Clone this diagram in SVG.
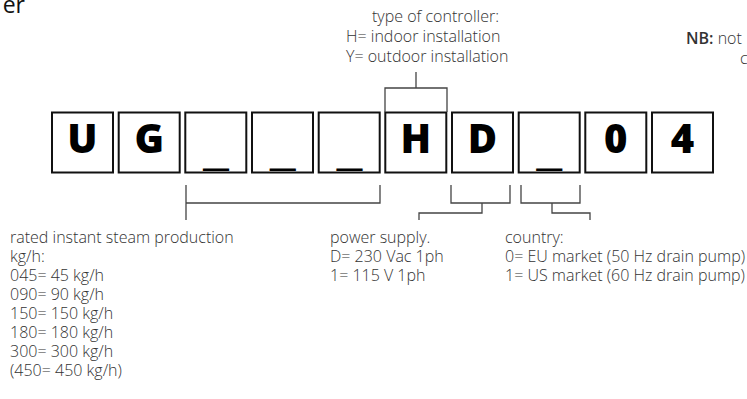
<svg xmlns="http://www.w3.org/2000/svg" width="747" height="399" viewBox="0 0 747 399">
<style>
.t{font-family:"Open Sans","Noto Sans",sans-serif;font-size:16px;font-weight:300;fill:#333}
.b{font-family:"Open Sans","Noto Sans",sans-serif;font-size:40px;font-weight:800;fill:#000;text-anchor:middle}
.u{font-family:"Open Sans","Noto Sans",sans-serif;font-size:36px;font-weight:700;fill:#000}
.box{fill:#fff;stroke:#111;stroke-width:2}
.ln{fill:none;stroke:#444;stroke-width:1.3}
</style>
<rect width="747" height="399" fill="#fff"/>
<text x="25" y="13" font-family="Open Sans, sans-serif" font-size="23" fill="#111" text-anchor="end">er</text>
<g id="note-controller">
<text class="t" x="372" y="22">type of controller:</text>
<text class="t" x="346" y="42">H= indoor installation</text>
<text class="t" x="346" y="62">Y= outdoor installation</text>
</g>
<g id="note-nb">
<text class="t" x="686" y="44"><tspan font-weight="600">NB:</tspan> not</text>
<text class="t" x="740" y="64">c</text>
</g>
<g id="box1"><rect class="box" x="52" y="112.5" width="61" height="60"/><text class="b" x="82.5" y="153">U</text></g>
<g id="box2"><rect class="box" x="118.7" y="112.5" width="61" height="60"/><text class="b" x="149.2" y="153">G</text></g>
<g id="box3"><rect class="box" x="185.3" y="112.5" width="61" height="60"/><text class="u" x="203" y="165" textLength="26" lengthAdjust="spacingAndGlyphs">_</text></g>
<g id="box4"><rect class="box" x="252" y="112.5" width="61" height="60"/><text class="u" x="269.7" y="165" textLength="26" lengthAdjust="spacingAndGlyphs">_</text></g>
<g id="box5"><rect class="box" x="318.7" y="112.5" width="61" height="60"/><text class="u" x="336.4" y="165" textLength="26" lengthAdjust="spacingAndGlyphs">_</text></g>
<g id="box6"><rect class="box" x="385.3" y="112.5" width="61" height="60"/><text class="b" x="415.8" y="153">H</text></g>
<g id="box7"><rect class="box" x="452" y="112.5" width="61" height="60"/><text class="b" x="482.5" y="153">D</text></g>
<g id="box8"><rect class="box" x="518.7" y="112.5" width="61" height="60"/><text class="u" x="536.2" y="165" textLength="26" lengthAdjust="spacingAndGlyphs">_</text></g>
<g id="box9"><rect class="box" x="585.3" y="112.5" width="61" height="60"/><text class="b" x="615.8" y="153">0</text></g>
<g id="box10"><rect class="box" x="652" y="112.5" width="61" height="60"/><text class="b" x="682.5" y="153">4</text></g>
<g id="connectors">
<path class="ln" d="M416 72V88M385 112V88H447V112"/>
<path class="ln" d="M186 185V220M186 203H380V185"/>
<path class="ln" d="M451 185V203H510V185M482 203V213H419V220"/>
<path class="ln" d="M521 185V203H580V185M552 203V213H590V220"/>
</g>
<g id="note-production">
<text class="t" x="10" y="243">rated instant steam production</text>
<text class="t" x="10" y="262">kg/h:</text>
<text class="t" x="10" y="281">045= 45 kg/h</text>
<text class="t" x="10" y="300">090= 90 kg/h</text>
<text class="t" x="10" y="319">150= 150 kg/h</text>
<text class="t" x="10" y="338">180= 180 kg/h</text>
<text class="t" x="10" y="357">300= 300 kg/h</text>
<text class="t" x="10" y="376">(450= 450 kg/h)</text>
</g>
<g id="note-power">
<text class="t" x="330" y="243">power supply.</text>
<text class="t" x="330" y="262">D= 230 Vac 1ph</text>
<text class="t" x="330" y="281">1= 115 V 1ph</text>
</g>
<g id="note-country">
<text class="t" x="505" y="243">country:</text>
<text class="t" x="505" y="262">0= EU market (50 Hz drain pump)</text>
<text class="t" x="505" y="281">1= US market (60 Hz drain pump)</text>
</g>
</svg>
